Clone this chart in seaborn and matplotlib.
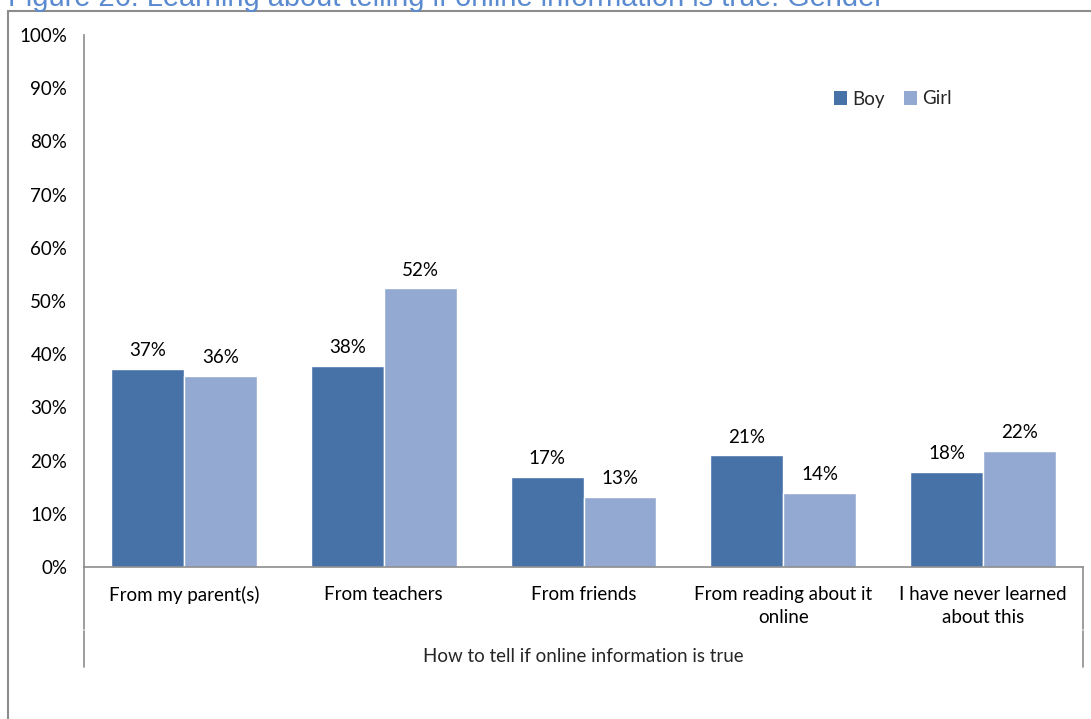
import matplotlib
matplotlib.use("Agg")
import matplotlib.pyplot as plt
import seaborn as sns
import pandas as pd
from matplotlib.lines import Line2D
from matplotlib.patches import Patch

categories = ["From my parent(s)", "From teachers", "From friends",
              "From reading about it\nonline", "I have never learned\nabout this"]
boy = [37.2, 37.8, 16.9, 21.0, 17.9]
girl = [35.9, 52.4, 13.2, 13.9, 21.8]
groups = ["Boy", "Girl"]
yticks = [0, 10, 20, 30, 40, 50, 60, 70, 80, 90, 100]

colors = {"Boy": "#4672A8", "Girl": "#94A9D2"}
grey = "#8C8C8C"
FS = 13.5

df = pd.DataFrame({
    "Source": categories * 2,
    "Gender": ["Boy"] * len(categories) + ["Girl"] * len(categories),
    "Percent": boy + girl,
})

sns.set_theme(style="white")
plt.rcParams["font.family"] = ["Lato", "DejaVu Sans"]

W, H = 1091, 719
fig = plt.figure(figsize=(W / 100, H / 100), dpi=100)
ax = fig.add_axes([84 / W, (H - 567) / H, (1083 - 84) / W, (567 - 35) / H])

sns.barplot(data=df, x="Source", y="Percent", hue="Gender", palette=colors,
            saturation=1, width=0.73, ax=ax, legend=False, errorbar=None)

ax.set_ylim(0, 100)
ax.set_xlim(-0.5, len(categories) - 0.5)
ax.set_yticks(yticks)
ax.set_yticklabels([f"{t}%" for t in yticks], fontsize=FS, color="black")
ax.tick_params(axis="y", length=0, pad=12)
ax.tick_params(axis="x", length=0, pad=13.5, labelsize=FS, labelcolor="black")
for lbl in ax.get_xticklabels():
    lbl.set_linespacing(1.45)
ax.set_xlabel("")
ax.set_ylabel("")

for side in ["top", "right"]:
    ax.spines[side].set_visible(False)
for side in ["left", "bottom"]:
    ax.spines[side].set_color(grey)
    ax.spines[side].set_linewidth(1.2)

for container, vals in zip(ax.containers, [boy, girl]):
    ax.bar_label(container, labels=[f"{round(v)}%" for v in vals],
                 padding=7, fontsize=FS, color="black")

# multi-level category axis frame below the plot
for xf in [0, 1]:
    ax.add_line(Line2D([xf, xf], [0, -62 / 532], transform=ax.transAxes,
                       color=grey, lw=1.2, clip_on=False))
    ax.add_line(Line2D([xf, xf], [-64 / 532, -100 / 532], transform=ax.transAxes,
                       color=grey, lw=1.2, clip_on=False))
ax.text(0.5, -89 / 532, "How to tell if online information is true",
        transform=ax.transAxes, ha="center", va="center", fontsize=FS)

handles = [Patch(facecolor=colors[g], edgecolor="none") for g in groups]
ax.legend(handles, groups, loc="center", bbox_to_anchor=(893 / W, (H - 99) / H),
          bbox_transform=fig.transFigure, ncol=2, frameon=False, fontsize=FS,
          handlelength=0.7, handleheight=0.7, handletextpad=0.3,
          columnspacing=1.0)

# outer chart border (left and top edges)
fig.add_artist(Line2D([8 / W, 8 / W], [0, (H - 11) / H], color=grey, lw=1.5))
fig.add_artist(Line2D([8 / W, 1.0], [(H - 11) / H, (H - 11) / H], color=grey, lw=1.5))

fig.text(8 / W, 1 - 6 / H, "Figure 26: Learning about telling if online information is true: Gender",
         ha="left", va="baseline", fontsize=20.9, color="#5A8AD0",
         family=["Liberation Sans", "DejaVu Sans"])

fig.savefig("out.png", dpi=100, facecolor="white")
